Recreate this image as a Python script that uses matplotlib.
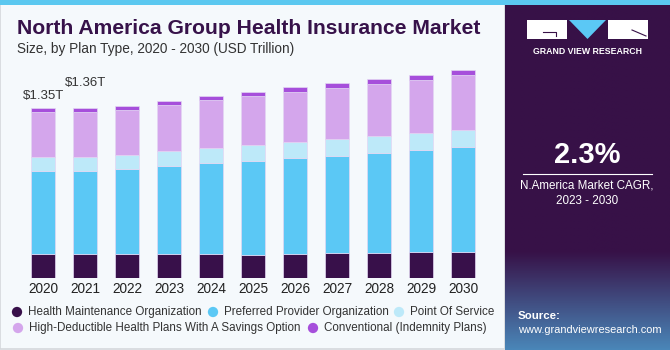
import matplotlib
matplotlib.use("Agg")
import matplotlib.pyplot as plt
from matplotlib.patches import Rectangle, Polygon
import numpy as np

plt.rcParams['font.family'] = ['Liberation Sans', 'DejaVu Sans']

years = ['2020', '2021', '2022', '2023', '2024', '2025', '2026', '2027', '2028', '2029', '2030']
segments = ['Health Maintenance Organization', 'Preferred Provider Organization', 'Point Of Service',
            'High-Deductible Health Plans With A Savings Option', 'Conventional (Indemnity Plans)']
hmo = [0.190, 0.190, 0.190, 0.190, 0.190, 0.184, 0.190, 0.196, 0.199, 0.204, 0.209]
ppo = [0.659, 0.659, 0.677, 0.701, 0.725, 0.746, 0.762, 0.775, 0.796, 0.812, 0.831]
pos = [0.111, 0.111, 0.111, 0.117, 0.119, 0.125, 0.127, 0.130, 0.133, 0.135, 0.137]
hdhp = [0.357, 0.357, 0.355, 0.365, 0.379, 0.391, 0.397, 0.407, 0.415, 0.421, 0.434]
conv = [0.030, 0.030, 0.030, 0.030, 0.032, 0.031, 0.038, 0.037, 0.037, 0.041, 0.038]
series = [hmo, ppo, pos, hdhp, conv]
colors = ['#38104A', '#5BC8F5', '#BDE9F9', '#D4A6EC', '#A64FDB']
annot_years = ['2020', '2021']
annot_text = ['$1.35T', '$1.36T']

W, H = 670, 350
fig = plt.figure(figsize=(W / 100, H / 100), dpi=100)
fig.patch.set_facecolor('#F5F9FC')

def fx(px):
    return px / W

def fy(py):
    return 1 - py / H

# bg elements
bgax = fig.add_axes([0, 0, 1, 1])
bgax.set_xlim(0, W)
bgax.set_ylim(H, 0)
bgax.axis('off')
bgax.add_patch(Rectangle((0, 0), 505, 349, facecolor='#F5F9FC', edgecolor='#D5D8DC', lw=1.2))
# right panel with gradient
grad = np.linspace(0, 1, 200)
panel = np.zeros((200, 1, 3))
top = np.array([0x37, 0x11, 0x47]) / 255
bot = np.array([0x4A, 0x86, 0xB8]) / 255
for i, g in enumerate(grad):
    t = max(0, (g - 0.72) / 0.28)
    panel[i, 0] = top * (1 - t) + bot * t
bgax.imshow(panel, extent=(505, 670, 350, 0), aspect='auto', zorder=1)
bgax.add_patch(Rectangle((0, 0), W, 4.5, facecolor='#5BC8F0', edgecolor='none', zorder=3))
# logo
bgax.add_patch(Rectangle((527, 20), 40, 19, facecolor='white', edgecolor='none', zorder=3))
bgax.add_patch(Polygon([[569, 20], [606, 20], [587.5, 39]], facecolor='#5BC8F5', edgecolor='none', zorder=3))
bgax.add_patch(Rectangle((608, 20), 40, 19, facecolor='white', edgecolor='none', zorder=3))
bgax.plot([543, 556, 556], [32, 32, 36], color='#371147', lw=0.8, zorder=4)
bgax.plot([632, 646], [30, 36], color='#371147', lw=0.8, zorder=4)
bgax.text(587.5, 51, 'GRAND VIEW RESEARCH', color='white', fontsize=6.3, fontweight='bold',
          ha='center', va='center', zorder=4)
bgax.text(587, 155, '2.3%', color='white', fontsize=21, fontweight='bold', ha='center', va='center', zorder=4)
bgax.plot([523, 652], [173.5, 173.5], color='white', lw=0.8, zorder=4)
bgax.text(587, 186, 'N.America Market CAGR,', color='white', fontsize=8.4, ha='center', va='center', zorder=4)
bgax.text(587, 201, '2023 - 2030', color='white', fontsize=8.4, ha='center', va='center', zorder=4)
bgax.text(518, 316, 'Source:', color='white', fontsize=8.2, fontweight='bold', ha='left', va='center', zorder=4)
bgax.text(518, 330, 'www.grandviewresearch.com', color='white', fontsize=7.9, ha='left', va='center', zorder=4)

# titles
bgax.text(17, 29, 'North America Group Health Insurance Market', color='#37124A', fontsize=15.2,
          fontweight='bold', ha='left', va='center', zorder=4)
bgax.text(17, 49, 'Size, by Plan Type, 2020 - 2030 (USD Trillion)', color='#333333', fontsize=9.8,
          ha='left', va='center', zorder=4)

# chart axes
scale = 1.35 / 170.0
ax_left, ax_right = 22, 484
ax_top, ax_bot = 60, 278
ax = fig.add_axes([fx(ax_left), fy(ax_bot), fx(ax_right - ax_left), (ax_bot - ax_top) / H])
ax.set_xlim(-0.5, len(years) - 0.5)
ax.set_ylim(0, (ax_bot - ax_top) * scale)
ax.patch.set_alpha(0)
x = np.arange(len(years))
bottom = np.zeros(len(years))
for name, vals, c in zip(segments, series, colors):
    ax.bar(x, vals, bottom=bottom, width=0.57, color=c, edgecolor='#E3D6F3', linewidth=0.5, label=name)
    bottom += np.array(vals)
for s in ax.spines.values():
    s.set_visible(False)
ax.set_yticks([])
ax.set_xticks(x)
ax.set_xticklabels(years, fontsize=9.8, color='#222222')
ax.tick_params(axis='x', length=0, pad=3)

totals = bottom
ann_off = [(-20, 12), (-20, 25)]
for yr, txt, off in zip(annot_years, annot_text, ann_off):
    i = years.index(yr)
    ax.annotate(txt, (i, totals[i]), xytext=off, textcoords='offset pixels', fontsize=9.5,
                color='#333333', ha='left', va='center')

# legend (manual)
leg_pos = [(17, 312), (213, 312), (399, 312), (18, 328), (313, 328)]
for (px, py), name, c in zip(leg_pos, segments, colors):
    bgax.scatter([px], [py], s=55, color=c, zorder=4, edgecolors='none')
    bgax.text(px + 11, py, name, fontsize=8.4, color='#333333', ha='left', va='center', zorder=4)

fig.savefig('out.png', dpi=100, facecolor=fig.get_facecolor())
